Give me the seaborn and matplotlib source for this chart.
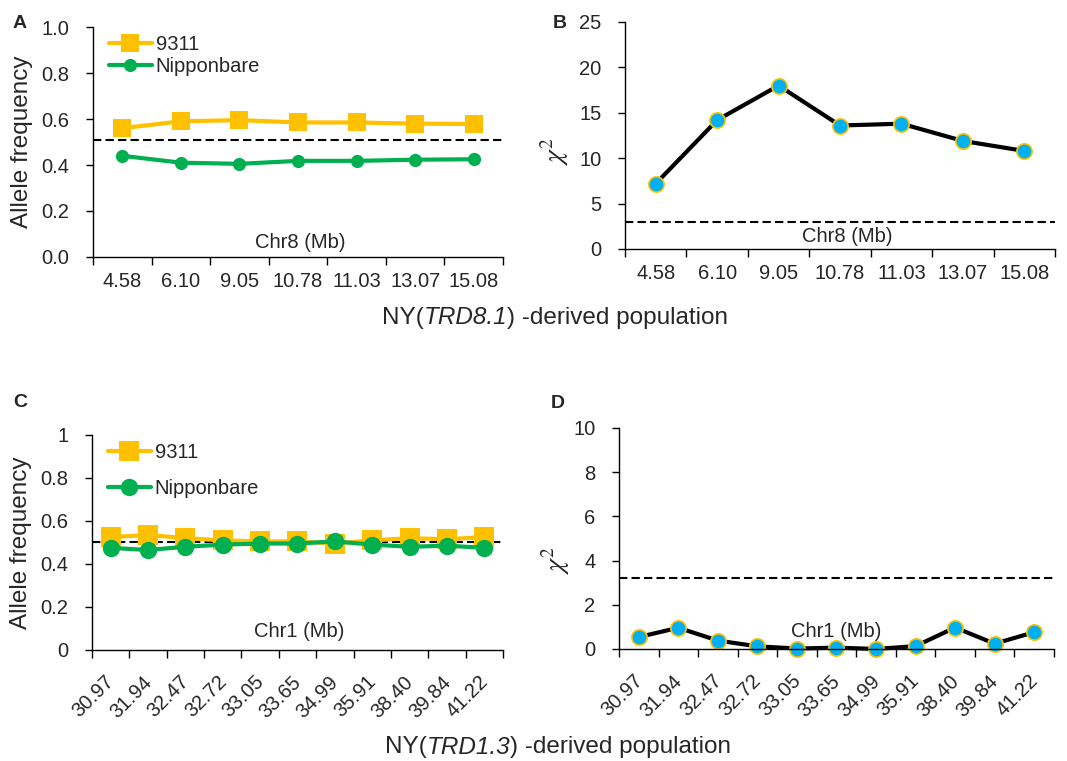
import numpy as np
import matplotlib
matplotlib.use("Agg")
import matplotlib.pyplot as plt
from matplotlib.transforms import ScaledTranslation
import seaborn as sns


sns.set_style("ticks")
plt.rcParams["font.family"] = ["Liberation Sans", "DejaVu Sans"]
plt.rcParams["axes.edgecolor"] = "black"
plt.rcParams["axes.linewidth"] = 1.0

ORANGE = "#FFC000"
GREEN = "#00B050"
BLUE = "#00B0F0"
FS = 14.5

# Chr8 (TRD8.1) population
chr8_pos = ["4.58", "6.10", "9.05", "10.78", "11.03", "13.07", "15.08"]
chr8_9311 = [0.56, 0.59, 0.595, 0.585, 0.585, 0.58, 0.578]
chr8_nip = [0.44, 0.41, 0.405, 0.418, 0.418, 0.423, 0.425]
chr8_chi2 = [7.2, 14.2, 18.0, 13.6, 13.8, 11.9, 10.8]
chr8_freq_cut = 0.51
chr8_chi2_cut = 3.0

# Chr1 (TRD1.3) population
chr1_pos = ["30.97", "31.94", "32.47", "32.72", "33.05", "33.65",
            "34.99", "35.91", "38.40", "39.84", "41.22"]
chr1_9311 = [0.525, 0.535, 0.52, 0.51, 0.505, 0.505, 0.495, 0.51, 0.52, 0.515, 0.525]
chr1_nip = [0.475, 0.465, 0.48, 0.49, 0.495, 0.495, 0.505, 0.49, 0.48, 0.485, 0.475]
chr1_chi2 = [0.54, 0.96, 0.38, 0.12, 0.02, 0.06, 0.0, 0.13, 0.97, 0.24, 0.76]
chr1_freq_cut = 0.5
chr1_chi2_cut = 3.2


def cat_axis(ax, labels, rotate=False):
    n = len(labels)
    ax.set_xlim(-0.5, n - 0.5)
    ax.set_xticks(range(n))
    if rotate:
        ax.set_xticklabels(labels, rotation=45, ha="right", rotation_mode="anchor")
        ax.tick_params(axis="x", which="major", length=0, pad=16, labelsize=FS)
        shift = ScaledTranslation(-6 / 100, 0, ax.figure.dpi_scale_trans)
        for lab in ax.get_xticklabels():
            lab.set_transform(lab.get_transform() + shift)
    else:
        ax.set_xticklabels(labels)
        ax.tick_params(axis="x", which="major", length=0, pad=11, labelsize=FS)
    ax.set_xticks(np.arange(n + 1) - 0.5, minor=True)
    ax.tick_params(axis="x", which="minor", length=6, width=1, color="black")
    ax.tick_params(axis="y", length=5, width=1, pad=12, labelsize=FS, color="black")
    ax.set_xlabel("")
    sns.despine(ax=ax)


def freq_panel(ax, labels, a, b, cut, yfmt, ms_sq, ms_ci, spacing, rotate, chr_text, ty):
    x = np.arange(len(labels))
    ax.axhline(cut, color="black", ls=(0, (4, 2)), lw=1.5, zorder=1.5)
    sns.lineplot(x=x, y=a, ax=ax, color=ORANGE, lw=3, marker="s", markersize=ms_sq,
                 markeredgecolor=ORANGE, markeredgewidth=0, label="9311", clip_on=False)
    sns.lineplot(x=x, y=b, ax=ax, color=GREEN, lw=3, marker="o", markersize=ms_ci,
                 markeredgecolor=GREEN, markeredgewidth=0, label="Nipponbare", clip_on=False)
    ax.set_ylim(0, 1)
    ticks = [round(v, 1) for v in np.arange(0, 1.01, 0.2)]
    ax.set_yticks(ticks)
    ax.set_yticklabels([yfmt(v) for v in ticks])
    ax.set_ylabel("Allele frequency", fontsize=17.5, labelpad=6)
    ax.legend(loc="upper left", bbox_to_anchor=(0.02, 1.0), frameon=False,
              handlelength=2.1, handletextpad=0.2, labelspacing=spacing,
              borderaxespad=0, fontsize=FS)
    ax.text(0.505, ty, chr_text, transform=ax.transAxes, ha="center", va="center", fontsize=FS)
    cat_axis(ax, labels, rotate)


def chi_panel(ax, labels, vals, cut, ymax, step, rotate, chr_text, tx, ty, lx, ly):
    x = np.arange(len(labels))
    ax.axhline(cut, color="black", ls=(0, (4, 2)), lw=1.5, zorder=1.5)
    sns.lineplot(x=x, y=vals, ax=ax, color="black", lw=3, marker="o", markersize=11,
                 markerfacecolor=BLUE, markeredgecolor=ORANGE, markeredgewidth=1.2,
                 clip_on=False)
    ax.set_ylim(0, ymax)
    ax.set_yticks(np.arange(0, ymax + 1, step))
    ax.set_ylabel(r"$\chi^2$", fontsize=20, math_fontfamily="stix")
    ax.yaxis.set_label_coords(lx, ly)
    ax.text(tx, ty, chr_text, transform=ax.transAxes, ha="center", va="center", fontsize=FS)
    cat_axis(ax, labels, rotate)


def caption(fig, xc, yc, parts, fs):
    # parts: list of (text, fontstyle), laid out left to right and centred at xc
    texts = [fig.text(0, yc, s, style=st, fontsize=fs, va="center", ha="left") for s, st in parts]
    renderer = fig.canvas.get_renderer()
    widths = [t.get_window_extent(renderer).width for t in texts]
    W = fig.bbox.width
    x = xc * W - sum(widths) / 2
    for t, w in zip(texts, widths):
        t.set_x(x / W)
        x += w


fig = plt.figure(figsize=(10.67, 7.61), dpi=100)
axA = fig.add_axes([0.0872, 0.6623, 0.3842, 0.3022])
axB = fig.add_axes([0.5858, 0.6728, 0.4030, 0.2983])
axC = fig.add_axes([0.0862, 0.1459, 0.3852, 0.2825])
axD = fig.add_axes([0.5801, 0.1472, 0.4077, 0.2904])

freq_panel(axA, chr8_pos, chr8_9311, chr8_nip, chr8_freq_cut, lambda v: f"{v:.1f}",
           12.5, 9.5, 0.15, False, "Chr8 (Mb)", 0.065)
chi_panel(axB, chr8_pos, chr8_chi2, chr8_chi2_cut, 25, 5, False, "Chr8 (Mb)", 0.516, 0.053,
          -0.125, 0.43)
freq_panel(axC, chr1_pos, chr1_9311, chr1_nip, chr1_freq_cut, lambda v: f"{v:g}",
           14, 12.5, 0.85, True, "Chr1 (Mb)", 0.084)
chi_panel(axD, chr1_pos, chr1_chi2, chr1_chi2_cut, 10, 2, True, "Chr1 (Mb)", 0.50, 0.081,
          -0.108, 0.40)

for lab, px, py in [("A", 20, 24), ("B", 560, 23), ("C", 20, 402), ("D", 558, 404)]:
    fig.text(px / 1067, 1 - py / 761, lab, weight="bold", fontsize=14, ha="center", va="center")

caption(fig, 555 / 1067, 1 - 318 / 761,
        [("NY(", "normal"), ("TRD8.1", "italic"), (") -derived population", "normal")], 17.5)
caption(fig, 558 / 1067, 1 - 747 / 761,
        [("NY(", "normal"), ("TRD1.3", "italic"), (") -derived population", "normal")], 17.5)

fig.savefig("out.png", dpi=100)
